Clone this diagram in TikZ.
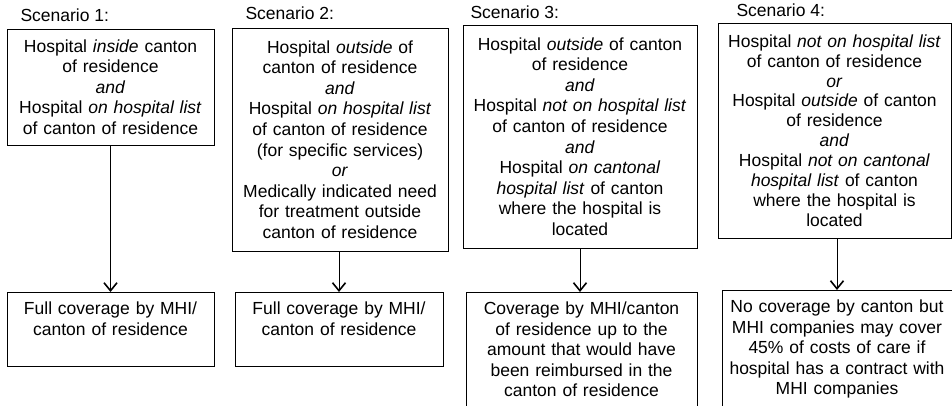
\documentclass[tikz,border=0pt]{standalone}
\usepackage{fontspec}
\setmainfont{Liberation Sans}
\usetikzlibrary{arrows.meta}

\tikzset{
  cond/.style={draw, line width=0.9pt, align=center, inner sep=3pt},
  outcome/.style={draw, line width=0.9pt, align=center, anchor=north,
    inner xsep=3pt, inner ysep=9pt, text height=13pt},
  arr/.style={line width=0.8pt,
    -{Straight Barb[length=8pt,width=13pt,line width=1.6pt]}},
  tag/.style={anchor=base west}
}

\begin{document}
\begin{tikzpicture}[x=1pt, y=1pt, font=\fontsize{17.5pt}{20.6pt}\selectfont]
    \useasboundingbox (0,0) rectangle (952,-406);

    % Scenario headings
    \node[tag] (s1) at (17,-21.5) {Scenario 1:};
    \node[tag] (s2) at (242,-20) {Scenario 2:};
    \node[tag] (s3) at (467,-19) {Scenario 3:};
    \node[tag] (s4) at (733,-17) {Scenario 4:};

    % Conditions
    \node[cond, text width=201pt, minimum height=116pt] (c1) at (110.5,-87)
      {Hospital \textit{inside} canton\\of residence\\\textit{and}\\
       Hospital \textit{on hospital list}\\of canton of residence};
    \node[cond, text width=210pt, minimum height=223pt] (c2) at (340,-139.5)
      {Hospital \textit{outside} of\\canton of residence\\\textit{and}\\
       Hospital \textit{on hospital list}\\of canton of residence\\
       (for specific services)\\\textit{or}\\Medically indicated need\\
       for treatment outside\\canton of residence};
    \node[cond, text width=228pt, minimum height=223pt] (c3) at (580,-136.5)
      {Hospital \textit{outside} of canton\\of residence\\\textit{and}\\
       Hospital \textit{not on hospital list}\\of canton of residence\\
       \textit{and}\\Hospital \textit{on cantonal}\\
       \textit{hospital list} of canton\\where the hospital is\\located};
    \node[cond, text width=227pt, minimum height=215pt,
          font=\fontsize{17.5pt}{19.9pt}\selectfont] (c4) at (834.5,-130.5)
      {Hospital \textit{not on hospital list}\\of canton of residence\\
       \textit{or}\\Hospital \textit{outside} of canton\\of residence\\
       \textit{and}\\Hospital \textit{not on cantonal}\\
       \textit{hospital list} of canton\\where the hospital is\\located};

    % Outcomes
    \node[outcome, text width=201pt, text depth=43pt] (o1) at (110.5,-292)
      {Full coverage by MHI/\\canton of residence};
    \node[outcome, text width=202pt, text depth=43pt] (o2) at (339,-292)
      {Full coverage by MHI/\\canton of residence};
    \node[outcome, text width=225pt, text depth=100pt] (o3) at (581.5,-292)
      {Coverage by MHI/canton\\of residence up to the\\amount that would have\\
       been reimbursed in the\\canton of residence};
    \node[outcome, text width=224pt, text depth=100pt] (o4) at (837,-290)
      {No coverage by canton but\\MHI companies may cover\\45\% of costs of care if\\
       hospital has a contract with\\MHI companies};

    % Arrows
    \draw[arr] (c1.south -| o1.north) -- (o1.north);
    \draw[arr] (c2.south -| o2.north) -- (o2.north);
    \draw[arr] (c3.south) -- (c3.south |- o3.north);
    \draw[arr] (c4.south -| o4.north) -- (o4.north);
\end{tikzpicture}
\end{document}
